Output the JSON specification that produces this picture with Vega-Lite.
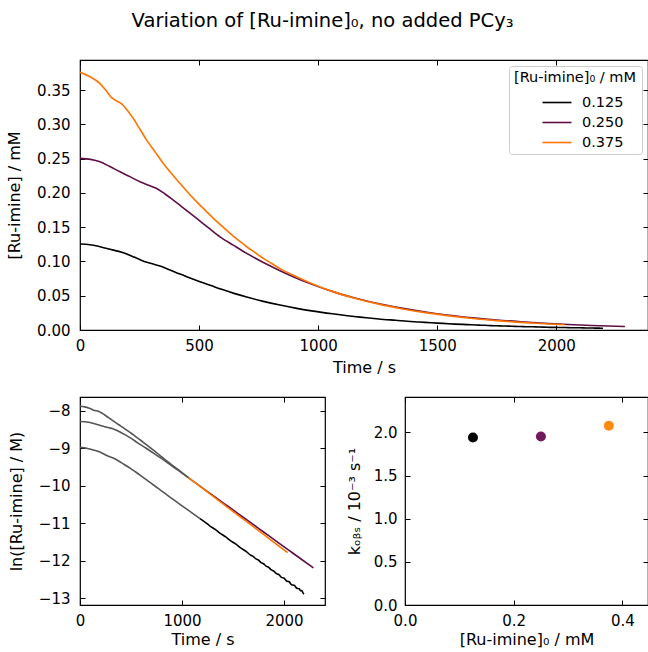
{
  "$schema": "https://vega.github.io/schema/vega-lite/v6.json",
  "padding": {"left": 6, "top": 11, "right": 0, "bottom": 0},
  "background": "white",
  "title": {"text": "Variation of [Ru-imine]₀, no added PCy₃", "fontSize": 19.5, "font": "DejaVu Sans", "fontWeight": "normal", "color": "black", "anchor": "middle", "frame": "bounds", "offset": 27, "dx": -5},
  "config": {
    "font": "DejaVu Sans",
    "view": {"stroke": "black", "strokeWidth": 1.2},
    "axis": {"domain": false, "grid": false, "tickSize": -5, "tickColor": "black", "tickWidth": 1, "labelFontSize": 15, "labelColor": "black", "labelFont": "DejaVu Sans", "titleFont": "DejaVu Sans", "titleFontSize": 16, "titleFontWeight": "normal", "titleColor": "black", "labelPadding": 13, "titlePadding": 7, "labelFlush": false, "labelOverlap": false},
    "axisY": {"labelPadding": 15},
    "legend": {"labelFont": "DejaVu Sans", "titleFont": "DejaVu Sans"}
  },
  "datasets": {
    "curves": [
      {"s":"0.125","t":0,"c":0.1255,"ln":-8.983},{"s":"0.125","t":42,"c":0.1245,"ln":-8.991},{"s":"0.125","t":84,"c":0.1215,"ln":-9.016},{"s":"0.125","t":130,"c":0.1175,"ln":-9.049},{"s":"0.125","t":182,"c":0.1127,"ln":-9.091},{"s":"0.125","t":230,"c":0.1060,"ln":-9.152},{"s":"0.125","t":273,"c":0.0996,"ln":-9.214},{"s":"0.125","t":305,"c":0.0966,"ln":-9.245},{"s":"0.125","t":336,"c":0.0933,"ln":-9.280},{"s":"0.125","t":378,"c":0.0875,"ln":-9.344},{"s":"0.125","t":420,"c":0.0816,"ln":-9.414},{"s":"0.125","t":462,"c":0.0760,"ln":-9.485},{"s":"0.125","t":504,"c":0.0704,"ln":-9.561},{"s":"0.125","t":550,"c":0.0648,"ln":-9.644},{"s":"0.125","t":595,"c":0.0593,"ln":-9.733},{"s":"0.125","t":650,"c":0.0531,"ln":-9.843},{"s":"0.125","t":700,"c":0.0481,"ln":-9.943},{"s":"0.125","t":770,"c":0.0418,"ln":-10.083},{"s":"0.125","t":840,"c":0.0364,"ln":-10.222},{"s":"0.125","t":910,"c":0.0316,"ln":-10.362},{"s":"0.125","t":980,"c":0.0275,"ln":-10.500},{"s":"0.125","t":1060,"c":0.0236,"ln":-10.655},{"s":"0.125","t":1176,"c":0.0188,"ln":-10.880},{"s":"0.125","t":1225,"c":0.0172,"ln":-10.970},{"s":"0.125","t":1275,"c":0.0154,"ln":-11.078},{"s":"0.125","t":1325,"c":0.0142,"ln":-11.165},{"s":"0.125","t":1375,"c":0.0127,"ln":-11.272},{"s":"0.125","t":1425,"c":0.0117,"ln":-11.360},{"s":"0.125","t":1475,"c":0.0105,"ln":-11.466},{"s":"0.125","t":1525,"c":0.0096,"ln":-11.552},{"s":"0.125","t":1575,"c":0.0086,"ln":-11.660},{"s":"0.125","t":1625,"c":0.0079,"ln":-11.745},{"s":"0.125","t":1675,"c":0.0071,"ln":-11.856},{"s":"0.125","t":1700,"c":0.0069,"ln":-11.890},{"s":"0.125","t":1725,"c":0.0064,"ln":-11.952},{"s":"0.125","t":1750,"c":0.0062,"ln":-11.986},{"s":"0.125","t":1775,"c":0.0058,"ln":-12.050},{"s":"0.125","t":1800,"c":0.0057,"ln":-12.082},{"s":"0.125","t":1825,"c":0.0053,"ln":-12.147},{"s":"0.125","t":1850,"c":0.0051,"ln":-12.180},{"s":"0.125","t":1875,"c":0.0048,"ln":-12.245},{"s":"0.125","t":1900,"c":0.0047,"ln":-12.275},{"s":"0.125","t":1925,"c":0.0044,"ln":-12.345},{"s":"0.125","t":1950,"c":0.0042,"ln":-12.370},{"s":"0.125","t":1975,"c":0.0039,"ln":-12.442},{"s":"0.125","t":2000,"c":0.0039,"ln":-12.465},{"s":"0.125","t":2025,"c":0.0036,"ln":-12.540},{"s":"0.125","t":2050,"c":0.0035,"ln":-12.560},{"s":"0.125","t":2075,"c":0.0032,"ln":-12.640},{"s":"0.125","t":2100,"c":0.0032,"ln":-12.655},{"s":"0.125","t":2125,"c":0.0029,"ln":-12.735},{"s":"0.125","t":2150,"c":0.0029,"ln":-12.750},{"s":"0.125","t":2160,"c":0.0028,"ln":-12.800},{"s":"0.125","t":2175,"c":0.0028,"ln":-12.795},{"s":"0.125","t":2185,"c":0.0026,"ln":-12.850},{"s":"0.125","t":2196,"c":0.0025,"ln":-12.890},
      {"s":"0.250","t":0,"c":0.2505,"ln":-8.292},{"s":"0.250","t":45,"c":0.2490,"ln":-8.298},{"s":"0.250","t":84,"c":0.2454,"ln":-8.313},{"s":"0.250","t":125,"c":0.2385,"ln":-8.341},{"s":"0.250","t":168,"c":0.2308,"ln":-8.374},{"s":"0.250","t":210,"c":0.2238,"ln":-8.405},{"s":"0.250","t":252,"c":0.2162,"ln":-8.439},{"s":"0.250","t":285,"c":0.2115,"ln":-8.461},{"s":"0.250","t":322,"c":0.2065,"ln":-8.485},{"s":"0.250","t":357,"c":0.1985,"ln":-8.525},{"s":"0.250","t":392,"c":0.1895,"ln":-8.571},{"s":"0.250","t":440,"c":0.1765,"ln":-8.642},{"s":"0.250","t":490,"c":0.1628,"ln":-8.723},{"s":"0.250","t":540,"c":0.1490,"ln":-8.812},{"s":"0.250","t":588,"c":0.1360,"ln":-8.903},{"s":"0.250","t":645,"c":0.1235,"ln":-8.999},{"s":"0.250","t":700,"c":0.1118,"ln":-9.099},{"s":"0.250","t":770,"c":0.0985,"ln":-9.226},{"s":"0.250","t":840,"c":0.0865,"ln":-9.355},{"s":"0.250","t":900,"c":0.0769,"ln":-9.473},{"s":"0.250","t":960,"c":0.0684,"ln":-9.590},{"s":"0.250","t":1062,"c":0.0560,"ln":-9.790},{"s":"0.250","t":1150,"c":0.0472,"ln":-9.962},{"s":"0.250","t":1266,"c":0.0375,"ln":-10.190},{"s":"0.250","t":1350,"c":0.0319,"ln":-10.354},{"s":"0.250","t":1450,"c":0.0262,"ln":-10.550},{"s":"0.250","t":1550,"c":0.0215,"ln":-10.746},{"s":"0.250","t":1650,"c":0.0177,"ln":-10.942},{"s":"0.250","t":1750,"c":0.0145,"ln":-11.138},{"s":"0.250","t":1850,"c":0.0120,"ln":-11.334},{"s":"0.250","t":1950,"c":0.0098,"ln":-11.530},{"s":"0.250","t":2050,"c":0.0081,"ln":-11.726},{"s":"0.250","t":2150,"c":0.0066,"ln":-11.922},{"s":"0.250","t":2288,"c":0.0051,"ln":-12.193},
      {"s":"0.375","t":0,"c":0.3760,"ln":-7.886},{"s":"0.375","t":40,"c":0.3700,"ln":-7.902},{"s":"0.375","t":84,"c":0.3596,"ln":-7.931},{"s":"0.375","t":110,"c":0.3490,"ln":-7.961},{"s":"0.375","t":133,"c":0.3390,"ln":-7.990},{"s":"0.375","t":155,"c":0.3340,"ln":-8.004},{"s":"0.375","t":175,"c":0.3300,"ln":-8.016},{"s":"0.375","t":200,"c":0.3200,"ln":-8.047},{"s":"0.375","t":224,"c":0.3086,"ln":-8.083},{"s":"0.375","t":250,"c":0.2940,"ln":-8.132},{"s":"0.375","t":280,"c":0.2770,"ln":-8.191},{"s":"0.375","t":315,"c":0.2600,"ln":-8.255},{"s":"0.375","t":350,"c":0.2430,"ln":-8.322},{"s":"0.375","t":385,"c":0.2280,"ln":-8.386},{"s":"0.375","t":420,"c":0.2138,"ln":-8.450},{"s":"0.375","t":455,"c":0.2000,"ln":-8.517},{"s":"0.375","t":490,"c":0.1870,"ln":-8.584},{"s":"0.375","t":525,"c":0.1750,"ln":-8.651},{"s":"0.375","t":560,"c":0.1630,"ln":-8.722},{"s":"0.375","t":595,"c":0.1520,"ln":-8.792},{"s":"0.375","t":630,"c":0.1410,"ln":-8.867},{"s":"0.375","t":665,"c":0.1310,"ln":-8.940},{"s":"0.375","t":700,"c":0.1215,"ln":-9.016},{"s":"0.375","t":735,"c":0.1130,"ln":-9.088},{"s":"0.375","t":770,"c":0.1045,"ln":-9.166},{"s":"0.375","t":805,"c":0.0970,"ln":-9.241},{"s":"0.375","t":840,"c":0.0895,"ln":-9.321},{"s":"0.375","t":900,"c":0.0791,"ln":-9.445},{"s":"0.375","t":960,"c":0.0698,"ln":-9.570},{"s":"0.375","t":1062,"c":0.0560,"ln":-9.790},{"s":"0.375","t":1150,"c":0.0468,"ln":-9.970},{"s":"0.375","t":1250,"c":0.0381,"ln":-10.175},{"s":"0.375","t":1350,"c":0.0311,"ln":-10.380},{"s":"0.375","t":1450,"c":0.0253,"ln":-10.585},{"s":"0.375","t":1550,"c":0.0206,"ln":-10.790},{"s":"0.375","t":1650,"c":0.0168,"ln":-10.995},{"s":"0.375","t":1750,"c":0.0137,"ln":-11.200},{"s":"0.375","t":1850,"c":0.0111,"ln":-11.405},{"s":"0.375","t":1950,"c":0.0091,"ln":-11.610},{"s":"0.375","t":2035,"c":0.0076,"ln":-11.784}
    ],
    "kobs": [
      {"s":"0.125","conc":0.125,"k":1.940},
      {"s":"0.250","conc":0.250,"k":1.953},
      {"s":"0.375","conc":0.375,"k":2.077}
    ]
  },
  "vconcat": [
    {
      "width": 568, "height": 270,
      "data": {"name": "curves"},
      "layer": [
        {
          "mark": {"type": "line", "strokeWidth": 1.6, "interpolate": "monotone", "clip": true},
          "encoding": {
            "x": {"field": "t", "type": "quantitative", "scale": {"domain": [0, 2385], "nice": false, "zero": false}, "axis": {"title": "Time / s", "values": [0, 500, 1000, 1500, 2000], "format": "d", "titlePadding": 6}},
            "y": {"field": "c", "type": "quantitative", "scale": {"domain": [0, 0.394], "nice": false}, "axis": {"title": "[Ru-imine] / mM", "values": [0, 0.05, 0.1, 0.15, 0.2, 0.25, 0.3, 0.35], "format": ".2f", "titlePadding": 14}},
            "color": {"field": "s", "type": "nominal", "scale": {"domain": ["0.125", "0.250", "0.375"], "range": ["#000000", "#5e0f45", "#ff7300"]},
              "legend": {"title": "[Ru-imine]₀ / mM", "orient": "top-right", "offset": 6, "padding": 5, "strokeColor": "#cccccc", "fillColor": "white", "cornerRadius": 3, "titleFontSize": 14.5, "titleFontWeight": "normal", "titleColor": "black", "titleAnchor": "middle", "labelFontSize": 14.5, "labelColor": "black", "symbolType": "M-1.45,0L1.45,0", "symbolSize": 400, "symbolStrokeWidth": 1.6, "symbolFillColor": "transparent", "rowPadding": 2, "titlePadding": 6, "symbolOffset": 19, "labelOffset": 14}}
          }
        },
        {
          "mark": {"type": "line", "opacity": 0},
          "encoding": {
            "x": {"field": "t", "type": "quantitative", "axis": {"orient": "top", "labels": false, "title": null, "values": [0, 500, 1000, 1500, 2000]}},
            "y": {"field": "c", "type": "quantitative", "axis": {"orient": "right", "labels": false, "title": null, "values": [0, 0.05, 0.1, 0.15, 0.2, 0.25, 0.3, 0.35]}}
          }
        }
      ],
      "resolve": {"axis": {"x": "independent", "y": "independent"}}
    },
    {
      "hconcat": [
        {
          "width": 245, "height": 208,
          "data": {"name": "curves"},
          "layer": [
            {
              "transform": [{"filter": "datum.t <= (datum.s == '0.125' ? 1176 : datum.s == '0.250' ? 1266 : 1062)"}],
              "mark": {"type": "line", "strokeWidth": 1.6, "color": "#555555", "interpolate": "monotone", "clip": true},
              "encoding": {
                "x": {"field": "t", "type": "quantitative", "scale": {"domain": [0, 2402], "nice": false, "zero": false}, "axis": {"title": "Time / s", "values": [0, 1000, 2000], "format": "d", "titlePadding": 3}},
                "y": {"field": "ln", "type": "quantitative", "scale": {"domain": [-13.18, -7.64], "nice": false, "zero": false}, "axis": {"title": "ln([Ru-imine] / M)", "values": [-13, -12, -11, -10, -9, -8], "format": "d", "titlePadding": 14}},
                "detail": {"field": "s", "type": "nominal"}
              }
            },
            {
              "transform": [{"filter": "datum.t >= (datum.s == '0.125' ? 1176 : datum.s == '0.250' ? 1266 : 1062)"}],
              "mark": {"type": "line", "strokeWidth": 1.6, "interpolate": "monotone", "clip": true},
              "encoding": {
                "x": {"field": "t", "type": "quantitative", "axis": null},
                "y": {"field": "ln", "type": "quantitative", "axis": null},
                "color": {"field": "s", "type": "nominal", "scale": {"domain": ["0.125", "0.250", "0.375"], "range": ["#000000", "#5e0f45", "#ff7300"]}, "legend": null}
              }
            },
            {
              "mark": {"type": "line", "opacity": 0},
              "encoding": {
                "x": {"field": "t", "type": "quantitative", "axis": {"orient": "top", "labels": false, "title": null, "values": [0, 1000, 2000]}},
                "y": {"field": "ln", "type": "quantitative", "axis": {"orient": "right", "labels": false, "title": null, "values": [-13, -12, -11, -10, -9, -8]}}
              }
            }
          ],
          "resolve": {"axis": {"x": "independent", "y": "independent"}}
        },
        {
          "width": 243, "height": 208,
          "data": {"name": "kobs"},
          "layer": [
            {
              "mark": {"type": "circle", "size": 100, "opacity": 1},
              "encoding": {
                "x": {"field": "conc", "type": "quantitative", "scale": {"domain": [0, 0.447], "nice": false, "zero": false}, "axis": {"title": "[Ru-imine]₀ / mM", "values": [0, 0.2, 0.4], "format": ".1f", "titlePadding": 3}},
                "y": {"field": "k", "type": "quantitative", "scale": {"domain": [0, 2.41], "nice": false, "zero": false}, "axis": {"title": "kₒᵦₛ / 10⁻³ s⁻¹", "values": [0, 0.5, 1, 1.5, 2], "format": ".1f", "labelPadding": 13, "titlePadding": 11}},
                "color": {"field": "s", "type": "nominal", "scale": {"domain": ["0.125", "0.250", "0.375"], "range": ["#000000", "#701a5c", "#ff8a10"]}, "legend": null}
              }
            },
            {
              "mark": {"type": "circle", "opacity": 0},
              "encoding": {
                "x": {"field": "conc", "type": "quantitative", "axis": {"orient": "top", "labels": false, "title": null, "values": [0, 0.2, 0.4]}},
                "y": {"field": "k", "type": "quantitative", "axis": {"orient": "right", "labels": false, "title": null, "values": [0, 0.5, 1, 1.5, 2]}}
              }
            }
          ],
          "resolve": {"axis": {"x": "independent", "y": "independent"}}
        }
      ],
      "spacing": 80,
      "bounds": "flush",
      "resolve": {"scale": {"color": "independent"}}
    }
  ],
  "spacing": 67,
  "bounds": "flush",
  "resolve": {"scale": {"color": "independent"}}
}
